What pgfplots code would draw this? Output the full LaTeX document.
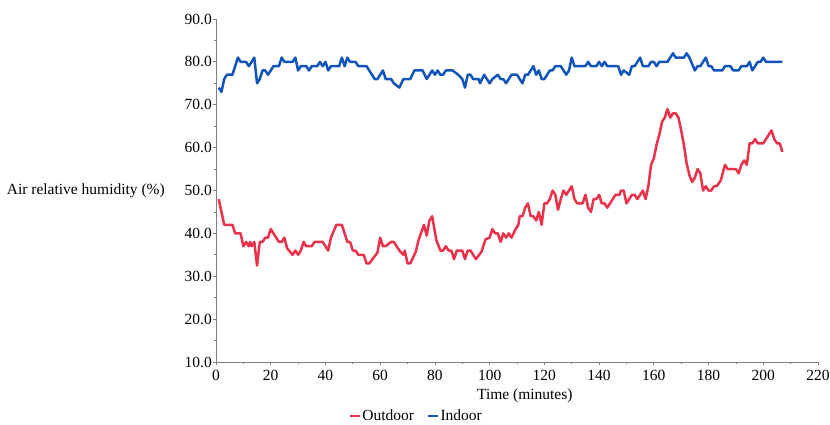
\documentclass[border=0pt]{standalone}
\usepackage{fontspec}
\setmainfont{Liberation Serif}
\usepackage{pgfplots}
\pgfplotsset{compat=1.18}
\definecolor{outred}{RGB}{235,50,75}
\definecolor{inblue}{RGB}{17,85,187}
\begin{document}
\fontsize{15.5}{18}\selectfont
\begin{tikzpicture}
\useasboundingbox (-216pt,-62pt) rectangle (614pt,362pt);
\begin{axis}[
  scale only axis, width=602pt, height=343pt,
  xmin=0, xmax=220, ymin=10, ymax=90,
  axis x line=bottom, axis y line=left,
  axis line style={-, draw=black!50, line width=0.8pt},
  tick style={draw=black!50, line width=0.8pt},
  tick align=outside, major tick length=3pt, minor tick length=2pt,
  xtick={0,20,...,220}, ytick={10,20,...,90},
  minor x tick num=1, minor y tick num=1,
  /pgf/number format/assume math mode=true,
  yticklabel style={/pgf/number format/fixed, /pgf/number format/precision=1, /pgf/number format/fixed zerofill, inner sep=1pt},
  xticklabel style={inner sep=5pt},
  xlabel={Time (minutes)},
  xlabel style={at={(axis description cs:0.513,0)}, anchor=center, yshift=-34pt},
  ylabel={Air relative humidity (\%)},
  ylabel style={rotate=-90, anchor=east, inner sep=0pt, at={(axis description cs:0,0.5)}, xshift=-51pt},
  legend columns=2,
  legend style={draw=none, fill=none, at={(axis description cs:0.332,-0.157)}, anchor=center, inner sep=0pt,
    nodes={inner xsep=1pt},
    /tikz/every even column/.append style={column sep=12pt}},
  legend image code/.code={\draw[#1, line width=2.5pt] (0pt,0pt) -- (10pt,0pt);},
  legend cell align=left,
]
\addplot[color=outred, line width=2.5pt, line join=round] coordinates {
(1,48) (3,42) (6,42) (7,40) (9,40) (10,37) (11,38) (12,37) (12.5,38) (13,37) (14,38) (15,32.5)
(16,38) (17,38) (18,39) (19,39) (20,41) (21,40) (23,38) (24,38) (25,39) (26,36.5) (28,35) (29,36)
(30,35) (31,36) (32,38) (33,37) (35,37) (36,38) (39,38) (41,36) (42,39) (44,42) (46,42) (48,38)
(49,38) (50,36) (51,36) (52,35) (54,35) (55,33) (56,33) (59,35.5) (60,39) (61,37) (62,37) (64,38)
(65,38) (67,36) (68.5,35) (69,36) (70,33) (71,33) (73,35.7) (74,38.4) (76,42) (77,39.5) (78,43) (79,44)
(80.5,38.5) (82,36) (83,36) (84,37) (85,36) (86,36) (87,34) (88,36) (90,36) (91,34) (92,36) (93,36)
(95,34) (97,35.7) (98.5,38.6) (100,39) (101,41) (102,40) (103,40) (104,38) (105,40) (106,39) (107,40)
(108,39) (109.5,41) (110.5,42) (111,44) (112,44) (113,46) (114,47) (115,44) (116,44) (117,43) (118,45)
(119,42) (120,47) (121,47) (122,48) (123,50) (124,49) (125,45.5) (126,48) (127,50) (128,49) (130,51)
(131,48) (132,47) (134,47) (135,49) (136,46) (137,45) (138,48) (139,48) (140,49) (141,47) (142,47)
(143,46) (144,47) (146,49) (147.5,49) (148,50) (149,50) (150,47) (151,48) (152,49) (153,49) (154,48)
(155,49) (156,50) (157,48) (158,51) (159,56) (160,57.5) (161,60.7) (162,63) (163,66) (164,67) (165,69)
(166,67) (167,68) (168,68) (169,67) (170,64) (171,60.6) (172,56.3) (173,53.6) (174,52) (175,53) (176,55)
(177,54) (178,50) (179,51) (180,50) (181,50) (182,51) (183,51) (184.5,52.4) (186,56) (187,55) (190,55)
(191,54) (192,56) (193,57) (194,56) (195,61) (196,61) (197,62) (198,61) (200,61) (201.5,62.5) (203,64)
(204,62) (205,61) (206,61) (207,59)
};
\addlegendentry{Outdoor}
\addplot[color=inblue, line width=2.5pt, line join=round] coordinates {
(1,74) (2,73) (3,76) (4,77) (6,77) (8,81) (9,80) (11,80) (12,79) (13,80) (14,81) (15,75) (16,76)
(17,78) (18,78) (19,77) (21,79) (23,79) (24,81) (25,80) (28,80) (29,81) (30,78) (31,79) (33,79)
(34,78) (35,79) (37,79) (38,80) (39,79) (40,80) (41,78) (42,79) (45,79) (46,81) (47,79) (48,81)
(49,80) (51,80) (52,79) (55,79) (58,76) (59,76) (61,78) (62,76) (64,76) (65,75) (67,74) (68.5,76)
(71,76) (72.5,78) (75.5,78) (77,76) (79,78) (80,77) (81,78) (82,77) (83,77) (84,78) (86.5,78)
(88.5,77) (90,76) (91,74) (92,77) (93,77) (94,76) (96,76) (96.5,75) (98,77) (99,76) (100,75) (101,76)
(103,77) (104,76) (105,76) (106,75) (108,77) (110,77) (111,76) (112,75) (113,77) (114,77) (115,78)
(116,79) (117,77) (118,78) (119,76) (120,76) (122,78) (123,78) (124,79) (126,79) (128,77) (129,78)
(130,81) (131,79) (135,79) (136,80) (137,79) (139,79) (140,80) (141,79) (142,80) (143,79) (147,79)
(148,77) (149,78) (151,77) (152,79) (153,79) (155,81) (156,79) (158,79) (159,80) (160,80) (161,79)
(162,80) (165,80) (167,82) (168,81) (171,81) (172,82) (173,81) (174,79.5) (175,78) (176,79) (177,79)
(178,80) (179,81) (180,79) (181,79) (182,78) (185,78) (186,79) (188,79) (189,78) (191,78) (192,79)
(194,79) (195,80) (196,78) (197,79) (198,80) (199,80) (200,81) (201,80) (207,80)
};
\addlegendentry{Indoor}
\end{axis}
\end{tikzpicture}
\end{document}
